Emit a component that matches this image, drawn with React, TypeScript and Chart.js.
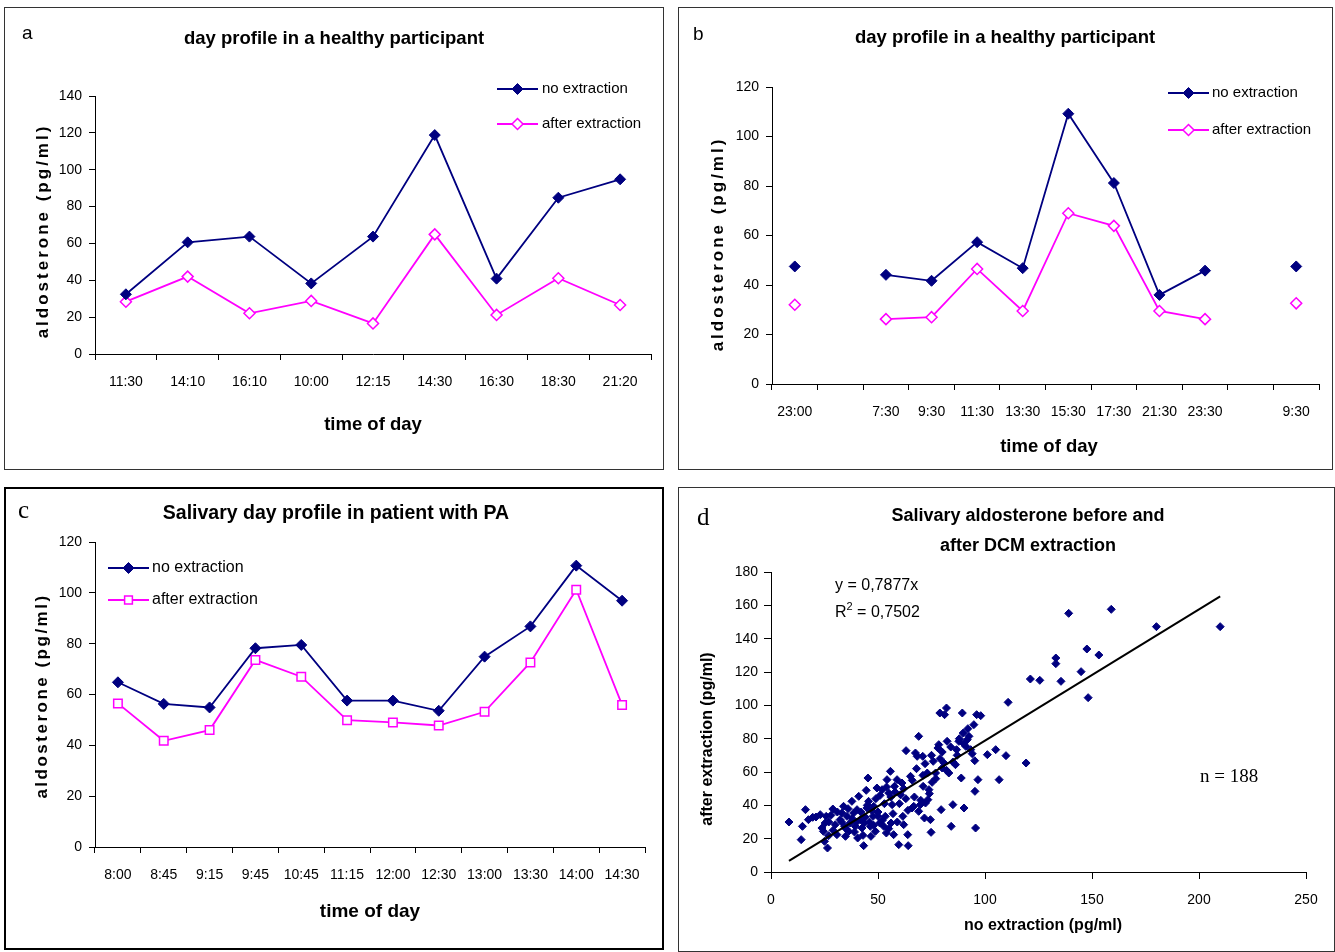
import React, { useEffect, useRef } from "react";
import { Chart, registerables } from "chart.js";
Chart.register(...registerables);

const NAVY = "#000080";
const MAGENTA = "#FF00FF";
const SANS = "'Liberation Sans', Arial, Helvetica, sans-serif";
const SERIF = "'Liberation Serif', 'Times New Roman', serif";

// ---------------- Panel a ----------------
const A_TIMES = ["11:30", "14:10", "16:10", "10:00", "12:15", "14:30", "16:30", "18:30", "21:20"];
const A_NO_EXTRACTION = [32.4, 60.6, 63.7, 38.3, 63.7, 118.8, 40.9, 84.8, 94.8];
const A_AFTER_EXTRACTION = [28.4, 42, 22.1, 28.8, 16.6, 64.9, 21.2, 41.1, 26.6];
const A_Y_MAX = 140;

// ---------------- Panel b ----------------
const B_TIMES = ["23:00", "", "7:30", "9:30", "11:30", "13:30", "15:30", "17:30", "21:30", "23:30", "", "9:30"];
const B_NO_EXTRACTION = [47.5, null, 44.1, 41.7, 57.3, 46.8, 109.2, 81.2, 36, 45.8, null, 47.5];
const B_AFTER_EXTRACTION = [32, null, 26.2, 27, 46.5, 29.5, 69, 63.9, 29.5, 26.2, null, 32.6];
const B_Y_MAX = 120;

// ---------------- Panel c ----------------
const C_TIMES = ["8:00", "8:45", "9:15", "9:45", "10:45", "11:15", "12:00", "12:30", "13:00", "13:30", "14:00", "14:30"];
const C_NO_EXTRACTION = [64.8, 56.3, 54.9, 78.2, 79.5, 57.6, 57.6, 53.6, 74.9, 86.8, 110.7, 96.9];
const C_AFTER_EXTRACTION = [56.5, 41.8, 46, 73.6, 67, 49.9, 49, 47.8, 53.2, 72.6, 101.2, 55.9];
const C_Y_MAX = 120;

// ---------------- Panel d ----------------
const D_NO_EXTRACTION = [
  8.4, 14.1, 14.7, 16.1, 17.5, 19.5, 23, 23.8, 24.5, 25.3, 25.8, 25, 26.4, 26.9, 28.9, 30, 30.8, 32.3, 33.1, 33.9,
  34.4, 34.8, 35.5, 36.3, 37, 37.8, 38.6, 39.4, 40.2, 40.5, 41, 41.7, 42.5, 43.3, 43.6, 44.5, 44.8, 45.3, 45.6, 46.4,
  46.7, 47.7, 48, 48.8, 49.5, 50, 50.8, 51.9, 52.7, 53.4, 53.9, 54.2, 55, 55.8, 56.1, 56.6, 57.3, 57.7, 58.9, 59.7,
  60.5, 61.2, 61.6, 62, 63.1, 63.9, 64.1, 65.2, 65.9, 66.7, 67.5, 68.3, 69, 69, 69.8, 70.9, 71.1, 71.7, 72.2, 73,
  73.3, 73.8, 74.5, 74.8, 75.3, 75.8, 76.9, 78, 78.4, 78.9, 79.5, 80, 80.8, 81.1, 82, 82.3, 83.1, 84.2, 85, 86.2,
  86.7, 87.8, 88.9, 89.4, 89.8, 90.2, 91, 91.7, 92.5, 93.3, 94.8, 95.2, 95.3, 95.6, 96.1, 96.7, 98, 101.1, 105, 106.6,
  109.8, 110.8, 119.2, 121.2, 125.6, 133.1, 133.1, 135.5, 139.1, 159, 180.1, 209.9, 147.6, 153.2, 144.9, 148.2,
  21, 27, 29, 31, 33, 35, 36, 38, 39, 40, 42, 43, 44, 46, 47, 48, 49, 50, 51, 52,
  53, 54, 55, 56, 57, 58, 59, 60, 62, 63, 64, 66, 67, 68, 70, 71, 72, 74, 75, 77,
  79, 80, 82, 84, 85, 87, 88, 90, 92, 94, 28, 45,
];
const D_AFTER_EXTRACTION = [
  30, 19.4, 27.4, 37.4, 31.4, 32.8, 34.4, 26.4, 24.4, 29.4, 33.4, 18.4, 14.4, 21.8, 37.8, 28.4, 22.4, 31.4, 35.4, 39.4,
  27.4, 21.4, 33.4, 24.4, 29.4, 42.4, 35.4, 27.4, 37.4, 20.4, 45.4, 31.4, 26.4, 15.8, 29.4, 49, 38.4, 56.4, 42.4, 27.4,
  21.4, 33.4, 39.4, 24.4, 50.4, 33.4, 29.4, 49.4, 27.4, 33.4, 23.4, 55.4, 47.4, 60.4, 29.4, 40.4, 22.4, 51.4, 55.4, 16.4,
  46.4, 53.4, 33.4, 28.4, 72.8, 22.4, 15.8, 57.4, 38.4, 39.4, 71.4, 69.4, 81.4, 36.4, 40.4, 69.4, 51.4, 32.4, 41.4, 59.4,
  43.4, 49.4, 31.4, 23.8, 53.8, 66.4, 59.4, 74.4, 76.4, 95.4, 37.4, 62.4, 65.4, 94.4, 98.4, 78.4, 59.4, 27.4, 40.4, 64.4,
  73.4, 78.4, 56.4, 95.4, 83.4, 38.4, 75.4, 79.4, 81.4, 73.4, 88.4, 66.8, 48.4, 26.4, 94.4, 55.4, 93.8, 70.4, 73.4, 55.4,
  69.8, 101.8, 65.4, 115.8, 115, 128.4, 125, 114.4, 155.2, 157.6, 147.2, 147.2, 133.8, 130.2, 120.2, 104.6,
  33, 30, 25, 36, 30, 26, 38, 32, 24, 30, 36, 22, 33, 30, 37, 28, 44, 36, 46, 31,
  41, 51, 26, 45, 35, 48, 30, 41, 50, 44, 37, 55, 45, 62, 43, 58, 65, 47, 70, 56,
  68, 72, 61, 75, 66, 70, 80, 77, 86, 71, 34, 40,
];
const D_SLOPE = 0.7877;
const D_EQUATION = "y = 0,7877x";
const D_R2_VALUE = " = 0,7502";
const D_N_LABEL = "n = 188";
const D_X_MAX = 250;
const D_Y_MAX = 180;

// ---------------- drawing helpers ----------------
type Part = { t: string; size: number; dy?: number };
type TextItem = {
  t?: string;
  parts?: Part[];
  x: number;
  y: number;
  font: string;
  align?: CanvasTextAlign;
  rot?: boolean;
  sp?: number;
  family?: string;
  weight?: string;
};
type LegendSpec = {
  x0: number;
  x1: number;
  tx: number;
  font: string;
  items: { label: string; color: string; style: "diamond" | "square"; filled: boolean; y: number }[];
};

function drawMarker(ctx: CanvasRenderingContext2D, style: string, x: number, y: number, r: number, color: string, filled: boolean) {
  ctx.beginPath();
  if (style === "diamond") {
    ctx.moveTo(x, y - r);
    ctx.lineTo(x + r, y);
    ctx.lineTo(x, y + r);
    ctx.lineTo(x - r, y);
    ctx.closePath();
  } else {
    const s = r * Math.SQRT1_2;
    ctx.rect(x - s, y - s, 2 * s, 2 * s);
  }
  ctx.fillStyle = filled ? color : "#ffffff";
  ctx.fill();
  ctx.lineWidth = filled ? 1 : 1.5;
  ctx.strokeStyle = color;
  ctx.stroke();
}

function decor(texts: TextItem[], legend: LegendSpec | null, border: { w: number; color: string }) {
  return {
    id: "decor",
    afterDraw(chart: any) {
      const ctx: CanvasRenderingContext2D = chart.ctx;
      const W = chart.width;
      const H = chart.height;
      ctx.save();
      ctx.strokeStyle = border.color;
      ctx.lineWidth = border.w;
      ctx.strokeRect(border.w / 2, border.w / 2, W - border.w, H - border.w);
      ctx.fillStyle = "#000";
      for (const it of texts) {
        ctx.save();
        ctx.translate(it.x, it.y);
        if (it.rot) ctx.rotate(-Math.PI / 2);
        (ctx as any).letterSpacing = (it.sp || 0) + "px";
        ctx.textBaseline = "middle";
        ctx.fillStyle = "#000";
        if (it.parts) {
          let x = 0;
          ctx.textAlign = "left";
          for (const p of it.parts) {
            ctx.font = `${it.weight || "normal"} ${p.size}px ${it.family || SANS}`;
            ctx.fillText(p.t, x, p.dy || 0);
            x += ctx.measureText(p.t).width;
          }
        } else {
          ctx.font = it.font;
          ctx.textAlign = it.align || "center";
          ctx.fillText(it.t || "", 0, 0);
        }
        ctx.restore();
      }
      if (legend) {
        for (const item of legend.items) {
          ctx.beginPath();
          ctx.moveTo(legend.x0, item.y);
          ctx.lineTo(legend.x1, item.y);
          ctx.strokeStyle = item.color;
          ctx.lineWidth = 2;
          ctx.stroke();
          drawMarker(ctx, item.style, (legend.x0 + legend.x1) / 2, item.y, 5.5, item.color, item.filled);
          ctx.font = legend.font;
          ctx.textAlign = "left";
          ctx.textBaseline = "middle";
          ctx.fillStyle = "#000";
          ctx.fillText(item.label, legend.tx, item.y);
        }
      }
      ctx.restore();
    },
  };
}

function axisCommon(tickLen: number, pad: number, size: number) {
  return {
    grid: { display: true, drawOnChartArea: false, drawTicks: true, tickLength: tickLen, color: "#000", tickColor: "#000", lineWidth: 1 },
    border: { display: true, color: "#000", width: 1 },
    ticks: { color: "#000", font: { family: SANS, size }, padding: pad },
  };
}

type LineSpec = {
  labels: string[];
  no: (number | null)[];
  after: (number | null)[];
  afterStyle: "rectRot" | "rect";
  yMax: number;
  area: { l: number; r: number; t: number; b: number };
  W: number;
  H: number;
  plugin: any;
};

function lineConfig(s: LineSpec): any {
  const xH = 60;
  const x = axisCommon(6, 14, 14);
  const y = axisCommon(6, 7, 14);
  return {
    type: "line",
    data: {
      labels: s.labels,
      datasets: [
        {
          label: "no extraction",
          data: s.no,
          borderColor: NAVY,
          borderWidth: 1.8,
          pointStyle: "rectRot",
          pointRadius: 5.5,
          pointBackgroundColor: NAVY,
          pointBorderColor: NAVY,
          pointBorderWidth: 1,
          tension: 0,
          spanGaps: false,
        },
        {
          label: "after extraction",
          data: s.after,
          borderColor: MAGENTA,
          borderWidth: 1.8,
          pointStyle: s.afterStyle,
          pointRadius: s.afterStyle === "rect" ? 6 : 5.5,
          pointBackgroundColor: "#ffffff",
          pointBorderColor: MAGENTA,
          pointBorderWidth: 1.5,
          tension: 0,
          spanGaps: false,
        },
      ],
    },
    options: {
      animation: false,
      responsive: false,
      events: [],
      layout: { padding: { left: 0, top: s.area.t, right: s.W - s.area.r, bottom: s.H - s.area.b - xH } },
      plugins: { legend: { display: false }, tooltip: { enabled: false }, title: { display: false } },
      scales: {
        x: {
          type: "category",
          offset: true,
          ...x,
          grid: { ...x.grid, offset: true },
          ticks: { ...x.ticks, maxRotation: 0, minRotation: 0, autoSkip: false },
          afterFit: (sc: any) => { sc.height = xH; },
        },
        y: {
          min: 0,
          max: s.yMax,
          ...y,
          ticks: { ...y.ticks, stepSize: 20 },
          afterFit: (sc: any) => { sc.width = s.area.l; },
        },
      },
    },
    plugins: [s.plugin],
  };
}

function scatterConfig(W: number, H: number): any {
  const area = { l: 93, r: 628, t: 85, b: 385 };
  const xH = 50;
  const x = axisCommon(7, 13, 14);
  const y = axisCommon(7, 6, 14);
  const points = D_NO_EXTRACTION.map((v, i) => ({ x: v, y: D_AFTER_EXTRACTION[i] }));
  const xMin = Math.min(...D_NO_EXTRACTION);
  const xMax = Math.max(...D_NO_EXTRACTION);
  const trend = [xMin, xMax].map((v) => ({ x: v, y: D_SLOPE * v }));
  const plugin = decor(
    [
      { t: "d", x: 19, y: 31, font: `normal 25px ${SERIF}`, align: "left" },
      { t: "Salivary aldosterone before and", x: 350, y: 29, font: `bold 18px ${SANS}` },
      { t: "after DCM extraction", x: 350, y: 59, font: `bold 18px ${SANS}` },
      { t: D_EQUATION, x: 157, y: 99, font: `normal 16px ${SANS}`, align: "left" },
      { parts: [{ t: "R", size: 16 }, { t: "2", size: 11, dy: -6 }, { t: D_R2_VALUE, size: 16 }], x: 157, y: 126, font: "" },
      { t: D_N_LABEL, x: 522, y: 290, font: `normal 19px ${SERIF}`, align: "left" },
      { t: "after extraction (pg/ml)", x: 30, y: 252, font: `bold 16px ${SANS}`, rot: true },
      { t: "no extraction (pg/ml)", x: 365, y: 439, font: `bold 16px ${SANS}` },
    ],
    null,
    { w: 1, color: "#333" }
  );
  return {
    type: "scatter",
    data: {
      datasets: [
        {
          label: "trend",
          type: "line",
          data: trend,
          showLine: true,
          borderColor: "#000",
          borderWidth: 2,
          pointRadius: 0,
          order: 0,
        },
        {
          label: "samples",
          data: points,
          pointStyle: "rectRot",
          pointRadius: 4,
          pointBackgroundColor: NAVY,
          pointBorderColor: NAVY,
          pointBorderWidth: 1,
          order: 1,
        },
      ],
    },
    options: {
      animation: false,
      responsive: false,
      events: [],
      layout: { padding: { left: 0, top: area.t, right: W - area.r, bottom: H - area.b - xH } },
      plugins: { legend: { display: false }, tooltip: { enabled: false }, title: { display: false } },
      scales: {
        x: {
          type: "linear",
          min: 0,
          max: D_X_MAX,
          ...x,
          ticks: { ...x.ticks, stepSize: 50, maxRotation: 0 },
          afterFit: (sc: any) => { sc.height = xH; },
        },
        y: {
          type: "linear",
          min: 0,
          max: D_Y_MAX,
          ...y,
          ticks: { ...y.ticks, stepSize: 20 },
          afterFit: (sc: any) => { sc.width = area.l; },
        },
      },
    },
    plugins: [plugin],
  };
}

function Panel({ left, top, width, height, make }: { left: number; top: number; width: number; height: number; make: () => any }) {
  const ref = useRef<HTMLCanvasElement>(null);
  useEffect(() => {
    const chart = new Chart(ref.current as HTMLCanvasElement, make());
    return () => chart.destroy();
  }, []);
  return (
    <canvas
      ref={ref}
      width={width}
      height={height}
      style={{ position: "absolute", left, top, width, height, display: "block" }}
    />
  );
}

const legendItems = (y1: number, y2: number, afterStyle: "diamond" | "square") => [
  { label: "no extraction", color: NAVY, style: "diamond" as const, filled: true, y: y1 },
  { label: "after extraction", color: MAGENTA, style: afterStyle, filled: false, y: y2 },
];

export default function App() {
  const makeA = () =>
    lineConfig({
      labels: A_TIMES,
      no: A_NO_EXTRACTION,
      after: A_AFTER_EXTRACTION,
      afterStyle: "rectRot",
      yMax: A_Y_MAX,
      area: { l: 91, r: 647, t: 89, b: 347 },
      W: 660,
      H: 463,
      plugin: decor(
        [
          { t: "a", x: 18, y: 27, font: `normal 19px ${SANS}`, align: "left" },
          { t: "day profile in a healthy participant", x: 330, y: 32, font: `bold 18.5px ${SANS}` },
          { t: "aldosterone (pg/ml)", x: 39, y: 224, font: `bold 17px ${SANS}`, rot: true, sp: 3 },
          { t: "time of day", x: 369, y: 418, font: `bold 18.5px ${SANS}` },
        ],
        { x0: 493, x1: 534, tx: 538, font: `normal 15px ${SANS}`, items: legendItems(82, 117, "diamond") },
        { w: 1, color: "#333" }
      ),
    });
  const makeB = () =>
    lineConfig({
      labels: B_TIMES,
      no: B_NO_EXTRACTION,
      after: B_AFTER_EXTRACTION,
      afterStyle: "rectRot",
      yMax: B_Y_MAX,
      area: { l: 94, r: 641, t: 80, b: 377 },
      W: 655,
      H: 463,
      plugin: decor(
        [
          { t: "b", x: 15, y: 28, font: `normal 19px ${SANS}`, align: "left" },
          { t: "day profile in a healthy participant", x: 327, y: 31, font: `bold 18.5px ${SANS}` },
          { t: "aldosterone (pg/ml)", x: 40, y: 237, font: `bold 17px ${SANS}`, rot: true, sp: 3 },
          { t: "time of day", x: 371, y: 440, font: `bold 18.5px ${SANS}` },
        ],
        { x0: 490, x1: 531, tx: 534, font: `normal 15px ${SANS}`, items: legendItems(86, 123, "diamond") },
        { w: 1, color: "#333" }
      ),
    });
  const makeC = () =>
    lineConfig({
      labels: C_TIMES,
      no: C_NO_EXTRACTION,
      after: C_AFTER_EXTRACTION,
      afterStyle: "rect",
      yMax: C_Y_MAX,
      area: { l: 91, r: 641, t: 55, b: 360 },
      W: 660,
      H: 463,
      plugin: decor(
        [
          { t: "c", x: 14, y: 24, font: `normal 25px ${SERIF}`, align: "left" },
          { t: "Salivary day profile in patient with PA", x: 332, y: 27, font: `bold 19.5px ${SANS}` },
          { t: "aldosterone (pg/ml)", x: 38, y: 209, font: `bold 17px ${SANS}`, rot: true, sp: 2.5 },
          { t: "time of day", x: 366, y: 425, font: `bold 19px ${SANS}` },
        ],
        { x0: 104, x1: 145, tx: 148, font: `normal 16px ${SANS}`, items: legendItems(81, 113, "square") },
        { w: 2, color: "#000" }
      ),
    });
  const makeD = () => scatterConfig(657, 465);

  return (
    <div style={{ position: "absolute", left: 0, top: 0, width: 1335, height: 952, background: "#fff", overflow: "hidden" }}>
      <Panel left={4} top={7} width={660} height={463} make={makeA} />
      <Panel left={678} top={7} width={655} height={463} make={makeB} />
      <Panel left={4} top={487} width={660} height={463} make={makeC} />
      <Panel left={678} top={487} width={657} height={465} make={makeD} />
    </div>
  );
}
